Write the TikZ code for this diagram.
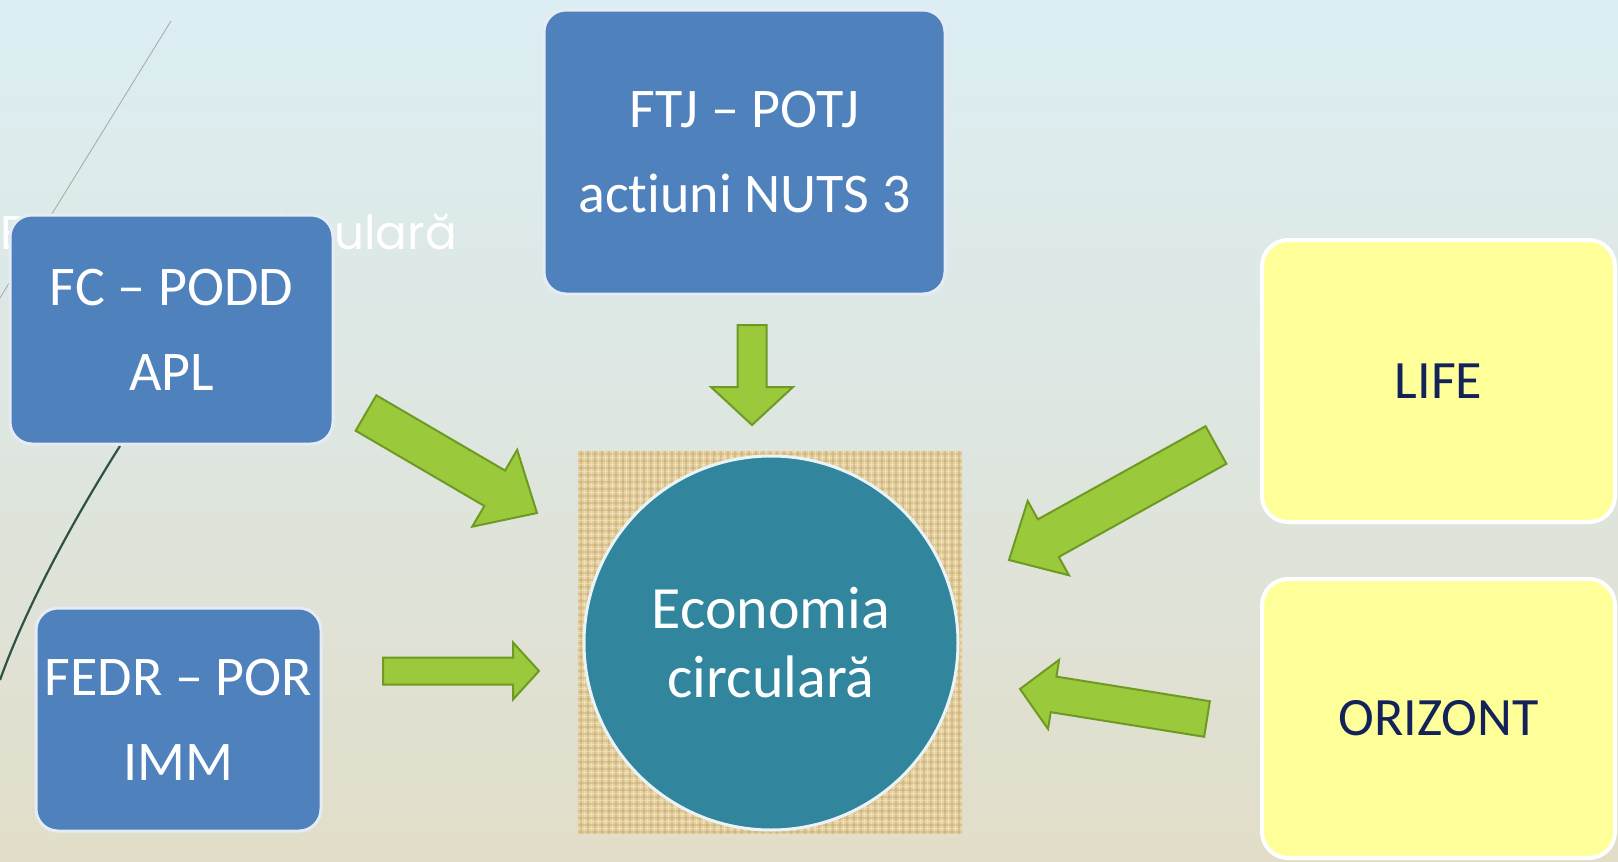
\documentclass[tikz,border=0pt]{standalone}
\usepackage{fontspec}
\setmainfont{Carlito}[Ligatures={NoCommon}]
\newfontfamily\titlefont{Poppins}
\usetikzlibrary{calc}
\definecolor{bgtop}{HTML}{DCEEF3}
\definecolor{bgmid}{HTML}{DEE6E0}
\definecolor{bgbot}{HTML}{E1DDC8}
\definecolor{boxblue}{HTML}{4F81BD}
\definecolor{boxyellow}{HTML}{FFFF99}
\definecolor{navytext}{HTML}{13235A}
\definecolor{arrowfill}{HTML}{9AC93B}
\definecolor{arrowline}{HTML}{6E9A24}
\definecolor{circteal}{HTML}{31859C}
\definecolor{burlap}{HTML}{E6D1A0}
\definecolor{burlapdark}{HTML}{C4A972}
\definecolor{burlaplight}{HTML}{F6EBCF}
\definecolor{darkline}{HTML}{2F5246}
\newcommand\blockarrow[5]{%
  \coordinate (hb) at ($(#2)!#5!(#1)$);
  \draw[arrowsty] ($(#1)!#3!90:(#2)$) -- ($(hb)!#3!-90:(#1)$) -- ($(hb)!#4!-90:(#1)$) -- (#2) -- ($(hb)!#4!90:(#1)$) -- ($(hb)!#3!90:(#1)$) -- ($(#1)!#3!-90:(#2)$) -- cycle;
}
\begin{document}
\begin{tikzpicture}[x=1pt,y=-1pt,
  bluebox/.style={draw=white!85!boxblue, line width=3pt, fill=boxblue, rounded corners=22pt,
    text=white, align=center, font=\fontsize{56}{85}\selectfont, inner sep=0pt},
  yellowbox/.style={draw=white, line width=4pt, fill=boxyellow, rounded corners=26pt,
    text=navytext, align=center, font=\fontsize{54}{65}\selectfont, inner sep=0pt},
  arrowsty/.style={fill=arrowfill, draw=arrowline, line width=2pt, line join=miter}]
\useasboundingbox (0,0) rectangle (1618,862);
\shade[top color=bgtop, bottom color=bgbot, middle color=bgmid] (0,0) rectangle (1618,862);
% decorative lines
\draw[gray!70, line width=0.8pt] (171,21) -- (0,298);
\draw[darkline, line width=2.2pt] (120,446) .. controls (70,525) and (25,610) .. (0,680);
% hidden title
\node[anchor=base east, text=white, font=\titlefont\fontsize{47}{54}\selectfont, inner sep=0pt] (title) at (457,249) {Economia circulară};
% boxes
\node[bluebox, minimum width=323pt, minimum height=229pt] (fc) at (171.5,329.5) {FC -- PODD\\APL};
\node[bluebox, minimum width=401pt, minimum height=284pt] (ftj) at (744.5,152) {FTJ -- POTJ\\actiuni NUTS 3};
\node[bluebox, minimum width=285pt, minimum height=223pt] (fedr) at (178.5,719.5) {FEDR -- POR\\IMM};
\node[yellowbox, minimum width=353pt, minimum height=282pt] (life) at (1438.5,381) {LIFE};
\node[yellowbox, minimum width=353pt, minimum height=279pt] (orizont) at (1438.5,718.5) {ORIZONT};
% textured square
\fill[burlap] (578,451) rectangle (962,834);
\begin{scope}
\clip (578,451) rectangle (962,834);
\foreach \i in {0,...,54} {
  \draw[burlapdark, opacity=0.45, line width=1.6pt] (581+\i*7,451) -- ++(0,383);
  \draw[burlapdark, opacity=0.40, line width=1.6pt] (578,454+\i*7) -- ++(384,0);
  \draw[burlaplight, opacity=0.55, line width=1.2pt] (584.5+\i*7,451) -- ++(0,383);
  \draw[burlaplight, opacity=0.45, line width=1.2pt] (578,457.5+\i*7) -- ++(384,0);
}
\end{scope}
\node[circle, minimum size=374pt, fill=circteal, draw=white!90!circteal, line width=3pt,
  text=white, align=center, font=\fontsize{60}{69}\selectfont, inner sep=0pt] (ec) at (771,643) {Economia\\circulară};
% arrows
\coordinate (fcT) at (366,413);  \coordinate (fcP) at (537,513);
\coordinate (ftjT) at (752,325); \coordinate (ftjP) at (752,425);
\coordinate (fedrT) at (383,671); \coordinate (fedrP) at (539,671);
\coordinate (lifeT) at (1216,445); \coordinate (lifeP) at (1009,560);
\coordinate (oriT) at (1207,719); \coordinate (oriP) at (1020,689);
\blockarrow{fcT}{fcP}{20.5pt}{44.5pt}{49pt}
\blockarrow{ftjT}{ftjP}{14.5pt}{41pt}{38pt}
\blockarrow{fedrT}{fedrP}{13.5pt}{28.5pt}{26pt}
\blockarrow{lifeT}{lifeP}{21.5pt}{42.5pt}{45pt}
\blockarrow{oriT}{oriP}{18pt}{35pt}{34pt}
\end{tikzpicture}
\end{document}
